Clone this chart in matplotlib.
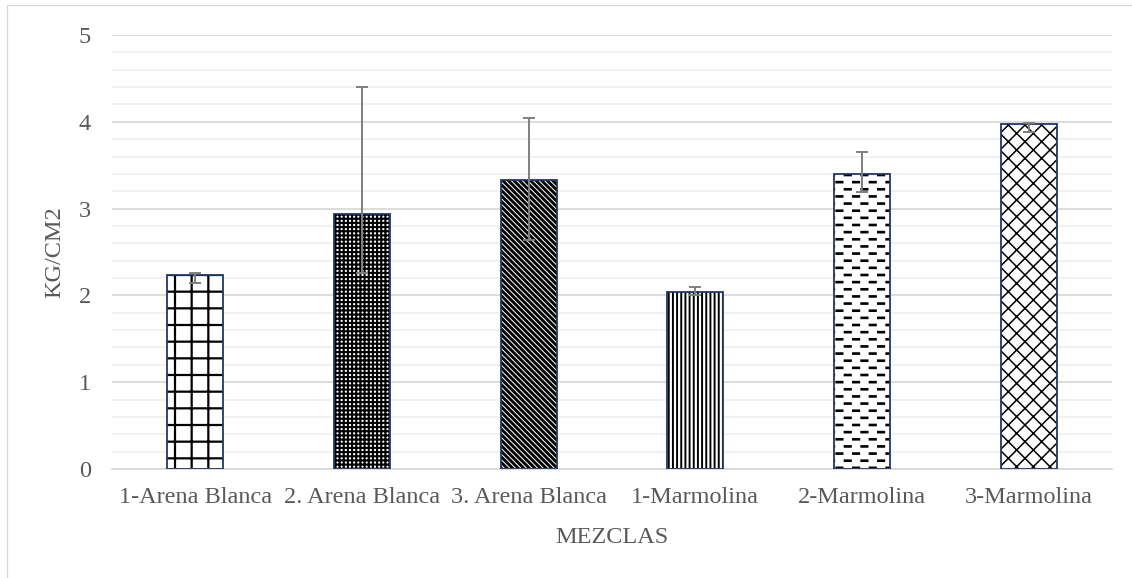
import numpy as np
import matplotlib
matplotlib.use("Agg")
import matplotlib.pyplot as plt
from matplotlib import hatch as mhatch
from matplotlib.patches import Rectangle

# ---------------- data ----------------
categories = ["1-Arena Blanca", "2. Arena Blanca", "3. Arena Blanca",
              "1-Marmolina", "2-Marmolina", "3-Marmolina"]
values = [2.24, 2.94, 3.33, 2.04, 3.40, 3.97]
err_low = [0.10, 0.68, 0.69, 0.04, 0.21, 0.09]
err_high = [0.02, 1.46, 0.71, 0.06, 0.25, 0.02]
y_ticks = [0, 1, 2, 3, 4, 5]
x_label = "MEZCLAS"
y_label = "KG/CM2"

# ---------------- custom staggered-dash hatch (mapped to '*') ----------------
class DashRows(mhatch.HatchPatternBase):
    def __init__(self, hatch, density):
        self.on = '*' in hatch
        self.rows = 14
        self.cols = 6
        self.length = 0.055
        self.num_vertices = self.rows * self.cols * 2 if self.on else 0

    def set_vertices_and_codes(self, vertices, codes):
        k = 0
        for i in range(self.rows):
            y = (i + 0.5) / self.rows
            off = 0.5 * (i % 2)
            for j in range(self.cols):
                x0 = (j + off + 0.2) / self.cols
                vertices[k] = (x0, y)
                vertices[k + 1] = (x0 + self.length, y)
                codes[k] = matplotlib.path.Path.MOVETO
                codes[k + 1] = matplotlib.path.Path.LINETO
                k += 2

mhatch._hatch_types = [t for t in mhatch._hatch_types if t is not mhatch.Stars] + [DashRows]

hatches = ['+', '++++', '\\' * 6, '||||', '*', 'xx']
hatch_lw = [1.6, 1.5, 2.1, 1.4, 1.9, 1.1]

text_color = '#595959'
plt.rcParams['font.family'] = ['Liberation Serif', 'DejaVu Serif']

fig = plt.figure(figsize=(11.32, 5.78), dpi=100)
ax = fig.add_axes([0.0989, 0.1886, 0.8834, 0.7508])

x = np.arange(len(categories))
width = 0.336

for i in range(len(categories)):
    with plt.rc_context({'hatch.linewidth': hatch_lw[i]}):
        b = ax.bar(x[i], values[i], width=width, color='white',
                   edgecolor='black', linewidth=0, hatch=hatches[i], zorder=2)
        for p in b:
            if hasattr(p, 'set_hatch_linewidth'):
                p.set_hatch_linewidth(hatch_lw[i])
ax.bar(x, values, width=width, fill=False, edgecolor='#1f3864',
       linewidth=1.3, zorder=3)

ax.errorbar(x, values, yerr=[err_low, err_high], fmt='none',
            ecolor='#7f7f7f', elinewidth=1.4, capsize=4, capthick=1.4, zorder=4)

ax.set_xlim(-0.5, len(categories) - 0.5)
ax.set_ylim(0, 5)
ax.set_yticks(y_ticks)
ax.set_yticks(np.arange(0, 5.01, 0.2), minor=True)
ax.grid(axis='y', which='major', color='#d9d9d9', linewidth=1.3, zorder=0)
ax.grid(axis='y', which='minor', color='#f0f0f0', linewidth=1.3, zorder=0)
ax.set_axisbelow(True)
for s in ['top', 'right', 'left']:
    ax.spines[s].set_visible(False)
ax.spines['bottom'].set_color('#d9d9d9')
ax.spines['bottom'].set_linewidth(1.3)

ax.set_xticks(x)
ax.set_xticklabels(categories)
ax.tick_params(axis='both', which='both', length=0, labelsize=17.5, colors=text_color)
ax.tick_params(axis='x', pad=13)
ax.tick_params(axis='y', pad=15)

ax.set_xlabel(x_label, fontsize=17.5, color=text_color, labelpad=14)
ax.set_ylabel(y_label, fontsize=17.5, color=text_color, labelpad=10)

fig.patches.append(Rectangle((7 / 1132, -0.1), 1.2, 1.1 - 5 / 578,
                             transform=fig.transFigure, fill=False,
                             edgecolor='#d9d9d9', linewidth=1.0))

fig.savefig('out.png', dpi=100)
